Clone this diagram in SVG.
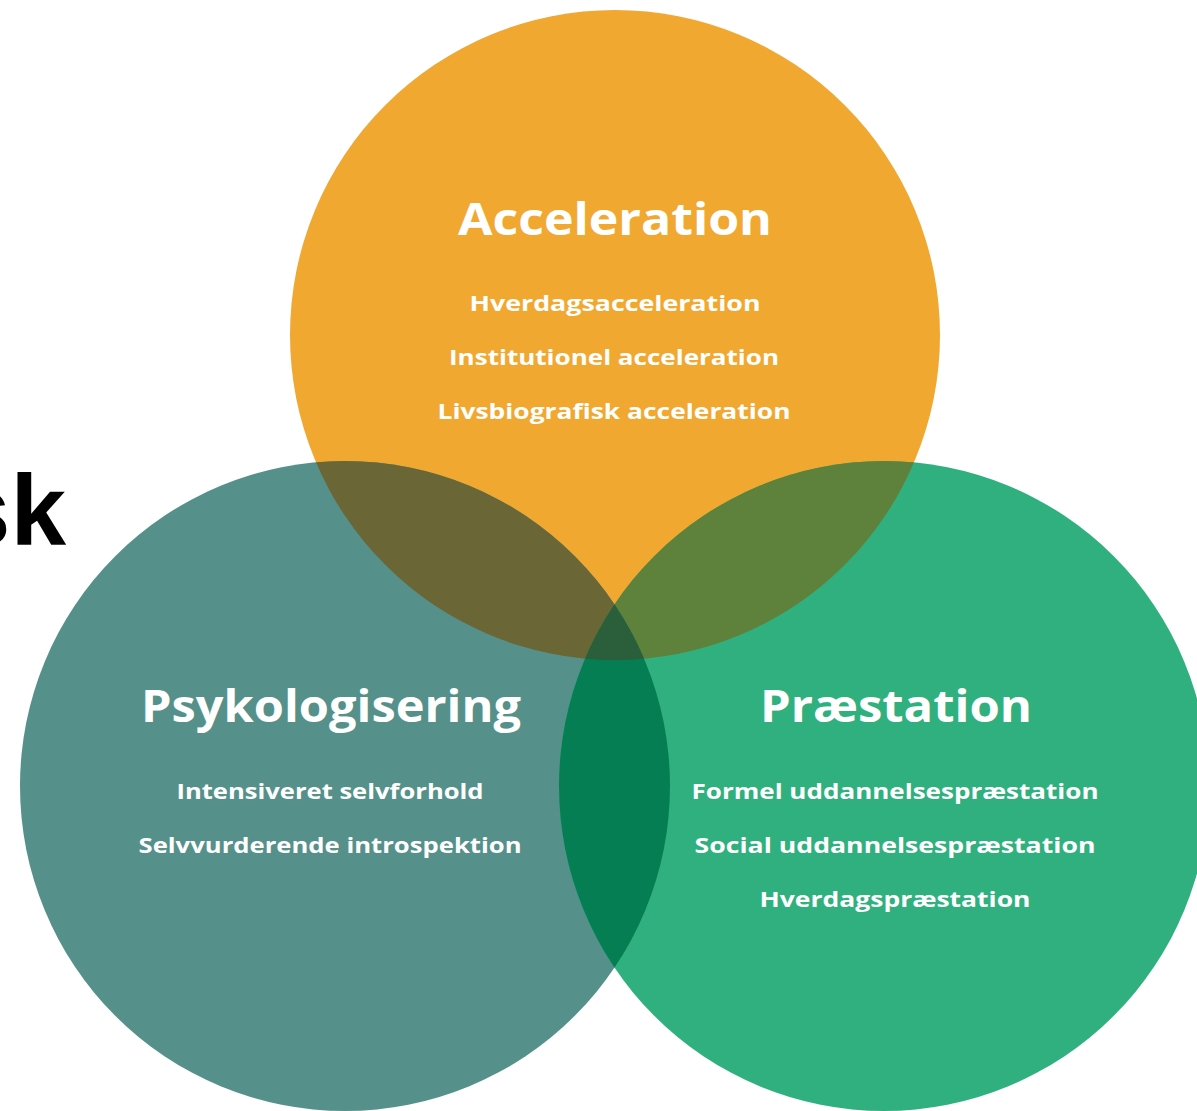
<svg xmlns="http://www.w3.org/2000/svg" width="1197" height="1111" viewBox="0 0 1197 1111">
  <style>
    .title { font-family: "Open Sans", "Noto Sans", "Liberation Sans", sans-serif; font-weight: 700; font-size: 44px; fill: #ffffff; text-anchor: middle; }
    .item { font-family: "Open Sans", "Noto Sans", "Liberation Sans", sans-serif; font-weight: 700; font-size: 22px; fill: #ffffff; text-anchor: middle; }
    .head { font-family: "Liberation Sans", "Arial", sans-serif; font-weight: 700; font-size: 100px; fill: #000000; }
  </style>
  <defs>
    <circle id="cA" cx="615" cy="335" r="325"/>
    <circle id="cP" cx="345" cy="786" r="325"/>
    <circle id="cR" cx="884" cy="786" r="325"/>
    <clipPath id="clipA"><use href="#cA"/></clipPath>
    <clipPath id="clipP"><use href="#cP"/></clipPath>
    <clipPath id="clipR"><use href="#cR"/></clipPath>
  </defs>

  <rect width="1197" height="1111" fill="#ffffff"/>

  <!-- heading fragment on the left edge -->
  <text class="head" x="66" y="545" text-anchor="end">sk</text>

  <!-- base circles -->
  <g id="circle-acceleration-shape">
    <use href="#cA" fill="#F1A830"/>
  </g>
  <g id="circle-psykologisering-shape">
    <use href="#cP" fill="#55918A"/>
  </g>
  <g id="circle-praestation-shape">
    <use href="#cR" fill="#30B07E"/>
  </g>

  <!-- overlap regions -->
  <g id="overlaps">
    <g clip-path="url(#clipA)"><use href="#cP" fill="#6A6636"/></g>
    <g clip-path="url(#clipA)"><use href="#cR" fill="#5E823C"/></g>
    <g clip-path="url(#clipP)"><use href="#cR" fill="#067E54"/></g>
    <g clip-path="url(#clipA)"><g clip-path="url(#clipP)"><use href="#cR" fill="#2B5E3B"/></g></g>
  </g>

  <!-- labels -->
  <g id="node-acceleration">
    <text class="title" x="615" y="235" textLength="314" lengthAdjust="spacingAndGlyphs">Acceleration</text>
    <text class="item" x="615" y="311" textLength="291" lengthAdjust="spacingAndGlyphs">Hverdagsacceleration</text>
    <text class="item" x="614" y="365" textLength="330" lengthAdjust="spacingAndGlyphs">Institutionel acceleration</text>
    <text class="item" x="614" y="419" textLength="353" lengthAdjust="spacingAndGlyphs">Livsbiografisk acceleration</text>
  </g>

  <g id="node-psykologisering">
    <text class="title" x="331" y="722" textLength="380" lengthAdjust="spacingAndGlyphs">Psykologisering</text>
    <text class="item" x="330" y="799" textLength="307" lengthAdjust="spacingAndGlyphs">Intensiveret selvforhold</text>
    <text class="item" x="330" y="853" textLength="383" lengthAdjust="spacingAndGlyphs">Selvvurderende introspektion</text>
  </g>

  <g id="node-praestation">
    <text class="title" x="896" y="722" textLength="272" lengthAdjust="spacingAndGlyphs">Præstation</text>
    <text class="item" x="895" y="799" textLength="407" lengthAdjust="spacingAndGlyphs">Formel uddannelsespræstation</text>
    <text class="item" x="895" y="853" textLength="401" lengthAdjust="spacingAndGlyphs">Social uddannelsespræstation</text>
    <text class="item" x="895" y="907" textLength="271" lengthAdjust="spacingAndGlyphs">Hverdagspræstation</text>
  </g>
</svg>
